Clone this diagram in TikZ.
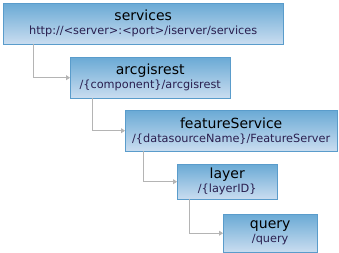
\documentclass[tikz,border=0pt]{standalone}
\usepackage{fontspec}
\setmainfont{DejaVu Sans}
\usetikzlibrary{positioning, arrows.meta}
\definecolor{BoxTop}{HTML}{6AAAD5}
\definecolor{BoxBottom}{HTML}{CADDF0}
\definecolor{BoxLine}{HTML}{5A9CCB}
\definecolor{LinkGray}{HTML}{B4B4B4}
\definecolor{PathNavy}{HTML}{2A1F4F}
\newcommand{\levelname}[1]{{\fontsize{14}{15}\selectfont\color{black}#1}}

\begin{document}
\begin{tikzpicture}[x=1pt, y=-1pt,
    level/.style={draw=BoxLine, top color=BoxTop, bottom color=BoxBottom, anchor=north west, inner sep=0pt, align=center, text=PathNavy},
    link/.style={-{Triangle[length=4pt, width=5pt]}, thick, color=LinkGray},
    every node/.style={font=\fontsize{11.3}{14}\selectfont}
]
\useasboundingbox (0,0) rectangle (339,253);

% Levels of the resource path
\node[level, minimum width=280pt, minimum height=41pt] (services) at (3,3)
    {\levelname{services}\\http://<server>:<port>/iserver/services};
\node[level, minimum width=160pt, minimum height=41pt] (arcgis) at (70,57)
    {\levelname{arcgisrest}\\/\{component\}/arcgisrest};
\node[level, minimum width=212pt, minimum height=41pt] (feature) at (125,110)
    {\levelname{featureService}\\/\{datasourceName\}/FeatureServer};
\node[level, minimum width=100pt, minimum height=35pt] (layer) at (177,164)
    {\levelname{layer}\\/\{layerID\}};
\node[level, minimum width=94pt, minimum height=38pt] (query) at (223,214)
    {\levelname{query}\\/query};

% Links
\draw[link] (services.south west) ++(30,0) |- (arcgis.west);
\draw[link] (arcgis.south west) ++(22,0) |- (feature.west);
\draw[link] (feature.south west) ++(18,0) |- (layer.west);
\draw[link] (layer.south west) ++(12,0) |- (query.west);

\end{tikzpicture}
\end{document}
